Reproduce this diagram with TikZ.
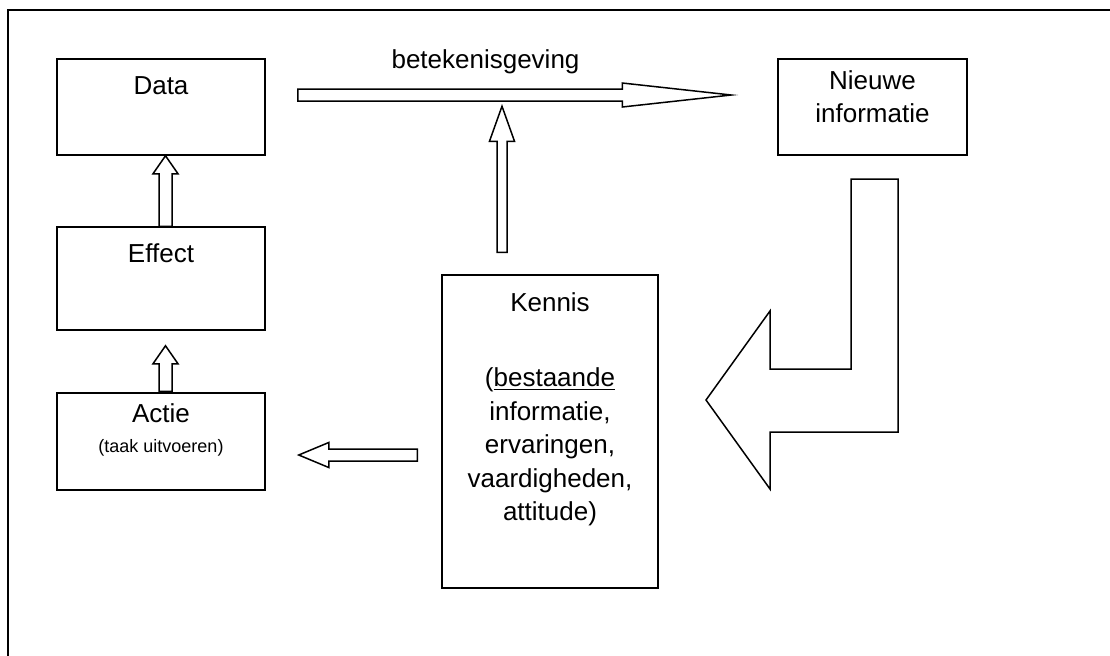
\documentclass[tikz,border=0pt]{standalone}
\usepackage{fontspec}
\setmainfont{Liberation Sans}
\usetikzlibrary{calc, positioning}

% open block arrow: from, to, half shaft, half head, head length
\newcommand{\blockarrow}[5]{%
  \coordinate (neck) at ($(#2)!#5!(#1)$);
  \draw[line width=0.75pt]
    ($(#1)!#3!90:(#2)$) -- ($(neck)!#3!90:(#2)$) -- ($(neck)!#4!90:(#2)$) -- (#2)
    -- ($(neck)!#4!-90:(#2)$) -- ($(neck)!#3!-90:(#2)$) -- ($(#1)!#3!-90:(#2)$) -- cycle;
}

\begin{document}
\begin{tikzpicture}[x=0.5pt, y=-0.5pt,
    box/.style = {draw, rectangle, line width=0.75pt, inner sep=0pt},
    txt/.style = {font=\fontsize{13}{16.75}\selectfont, align=center, inner sep=0pt},
    small/.style = {font=\fontsize{9}{11}\selectfont, inner sep=0pt}]
	\clip (0,0) rectangle (1110,655);
	\draw[line width=1pt] (8,10) rectangle (1140,690);
	\node[box, minimum width=104pt, minimum height=48pt] (data) at (161,107) {};
	\node[box, minimum width=104pt, minimum height=51.5pt] (effect) at (161,278.5) {};
	\node[box, minimum width=104pt, minimum height=48.5pt] (actie) at (161,441.5) {};
	\node[box, minimum width=94.5pt, minimum height=48pt] (nieuw) at (872.5,107) {};
	\node[box, minimum width=108pt, minimum height=156.5pt] (kennis) at (550,431.5) {};
	\node[txt, anchor=base] at ($(data.north)+(0,36)$) {Data};
	\node[txt, anchor=base] at ($(effect.north)+(0,36)$) {Effect};
	\node[txt, anchor=base] at ($(actie.north)+(0,30)$) {Actie};
	\node[small, anchor=base] at ($(actie.north)+(0,60)$) {(taak uitvoeren)};
	\node[txt, anchor=north] at ($(nieuw.north)+(0,12)$) {Nieuwe\\informatie};
	\node[txt, anchor=north] at ($(kennis.north)+(0,18)$)
		{Kennis\\[20.75pt](\underline{bestaande}\\informatie,\\ervaringen,\\vaardigheden,\\attitude)};
	\node[txt, anchor=base] (bet) at ($(data.north east)!0.5!(nieuw.north west)+(-36,10)$) {betekenisgeving};
	\coordinate (e1) at ($(effect.north)+(4.5,0)$);
	\coordinate (d1) at ($(data.south)+(4.5,0)$);
	\blockarrow{e1}{d1}{3.25pt}{6.25pt}{9pt}
	\coordinate (a1) at ($(actie.north)+(4.5,-1)$);
	\coordinate (e2) at ($(effect.south)+(4.5,15)$);
	\blockarrow{a1}{e2}{3.25pt}{6.25pt}{9pt}
	\coordinate (t1) at ($(data.east)+(32,-12)$);
	\coordinate (t2) at ($(nieuw.west)+(-46,-12)$);
	\blockarrow{t1}{t2}{3pt}{6pt}{54.5pt}
	\coordinate (k1) at ($(kennis.north)+(-48,-22)$);
	\coordinate (k2) at ($(kennis.north)+(-48,-168)$);
	\blockarrow{k1}{k2}{2.5pt}{6.25pt}{17.5pt}
	\coordinate (k3) at ($(kennis.west)+(-24,23.5)$);
	\coordinate (a2) at ($(actie.east)+(33,13.5)$);
	\blockarrow{k3}{a2}{3pt}{6.25pt}{15pt}
	% bent arrow from Nieuwe informatie back to Kennis
	\draw[line width=0.75pt] (898,179) -- (898,432) -- (770,432) -- (770,489) -- (706,400)
		-- (770,311) -- (770,369) -- (851,369) -- (851,179) -- cycle;
\end{tikzpicture}
\end{document}
